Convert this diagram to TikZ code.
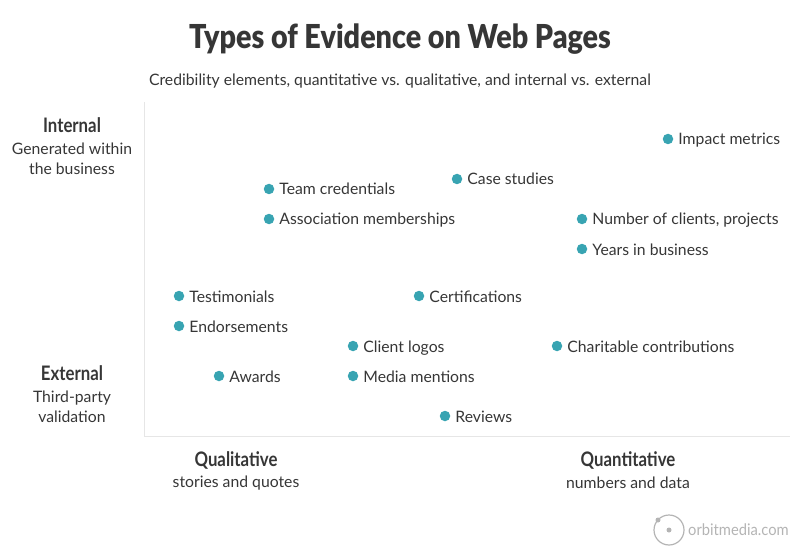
\documentclass[tikz,border=0pt]{standalone}
\usepackage{fontspec}
\usepackage{xcolor}
\usetikzlibrary{positioning}
\setmainfont{Lato}
\newfontfamily\headfont[FakeStretch=0.84]{Lato Bold}
\newfontfamily\titlefont[FakeStretch=0.87]{Lato Black}
\newfontfamily\logofont[FakeStretch=0.92]{Lato}
\definecolor{dotteal}{HTML}{38A4B2}
\definecolor{inkgray}{HTML}{363636}
\definecolor{axisgray}{HTML}{E6E6E6}
\definecolor{logogray}{HTML}{B4B4B4}
\tikzset{
  dotmark/.style={circle, fill=dotteal, minimum size=10.5pt, inner sep=0pt},
  itemtext/.style={inner sep=0pt, font=\fontsize{15.75}{15.75}\selectfont, text=inkgray, text height=15pt, text depth=3pt},
  headtext/.style={align=center, text=inkgray, inner sep=0pt, font=\headfont\fontsize{20}{20}\selectfont},
  subtext/.style={align=center, text=inkgray, inner sep=0pt, font=\fontsize{15.75}{20}\selectfont}
}
\begin{document}
\begin{tikzpicture}[x=1pt, y=-1pt]
        \useasboundingbox (0,0) rectangle (800,556);

        % Title
        \node[headtext, font=\titlefont\fontsize{33}{33}\selectfont] (title) at (400,39.5) {Types of Evidence on Web Pages};
        \node[subtext] (subtitle) at (400,81) {Credibility elements, quantitative vs. qualitative, and internal vs. external};

        % Axes
        \coordinate (axistop) at (144,102);
        \coordinate (axiscorner) at (144,436);
        \coordinate (axisright) at (790,436);
        \draw[axisgray, line width=1pt] (axistop) -- (axiscorner) -- (axisright);

        % Axis labels
        \node[headtext] (internal) at (72,125) {Internal};
        \node[subtext] (internalsub) at (72,159) {Generated within\\the business};
        \node[headtext] (external) at (72,373) {External};
        \node[subtext] (externalsub) at (72,407) {Third-party\\validation};
        \node[headtext] (qualitative) at (236,460) {Qualitative};
        \node[subtext] (qualitativesub) at (236,483) {stories and quotes};
        \node[headtext] (quantitative) at (628,460) {Quantitative};
        \node[subtext] (quantitativesub) at (628,483) {numbers and data};

        % Evidence, top row to bottom row
        \node[dotmark] (impact) at (668,139) {};
        \node[itemtext, right=4.75pt of impact] (impacttext) {Impact metrics};
        \node[dotmark] (cases) at (457,179) {};
        \node[itemtext, right=4.75pt of cases] (casestext) {Case studies};
        \node[dotmark] (team) at (269,189) {};
        \node[itemtext, right=4.75pt of team] (teamtext) {Team credentials};
        \node[dotmark] (assoc) at (269,219) {};
        \node[itemtext, right=4.75pt of assoc] (assoctext) {Association memberships};
        \node[dotmark] (clients) at (582,219) {};
        \node[itemtext, right=4.75pt of clients] (clientstext) {Number of clients, projects};
        \node[dotmark] (years) at (582,249) {};
        \node[itemtext, right=4.75pt of years] (yearstext) {Years in business};
        \node[dotmark] (testimonials) at (179,296) {};
        \node[itemtext, right=4.75pt of testimonials] (testimonialstext) {Testimonials};
        \node[dotmark] (certs) at (419,296) {};
        \node[itemtext, right=4.75pt of certs] (certstext) {Certifications};
        \node[dotmark] (endorse) at (179,326) {};
        \node[itemtext, right=4.75pt of endorse] (endorsetext) {Endorsements};
        \node[dotmark] (logos) at (353,346) {};
        \node[itemtext, right=4.75pt of logos] (logostext) {Client logos};
        \node[dotmark] (charity) at (557,346) {};
        \node[itemtext, right=4.75pt of charity] (charitytext) {Charitable contributions};
        \node[dotmark] (awards) at (219,376) {};
        \node[itemtext, right=4.75pt of awards] (awardstext) {Awards};
        \node[dotmark] (media) at (353,376) {};
        \node[itemtext, right=4.75pt of media] (mediatext) {Media mentions};
        \node[dotmark] (reviews) at (445,416) {};
        \node[itemtext, right=4.75pt of reviews] (reviewstext) {Reviews};

        % Logo
        \node[circle, draw=logogray, line width=1.2pt, minimum size=30pt, inner sep=0pt] (orbit) at (669,530) {};
        \node[circle, fill=logogray, minimum size=5pt, inner sep=0pt] (orbitcore) at (669,530) {};
        \node[circle, fill=logogray, minimum size=5pt, inner sep=0pt] (orbitmoon) at (658,520) {};
        \node[inner sep=0pt, anchor=west, text=logogray, font=\logofont\fontsize{16}{16}\selectfont] (orbittext) at (688,530) {orbitmedia.com};
    \end{tikzpicture}
\end{document}
